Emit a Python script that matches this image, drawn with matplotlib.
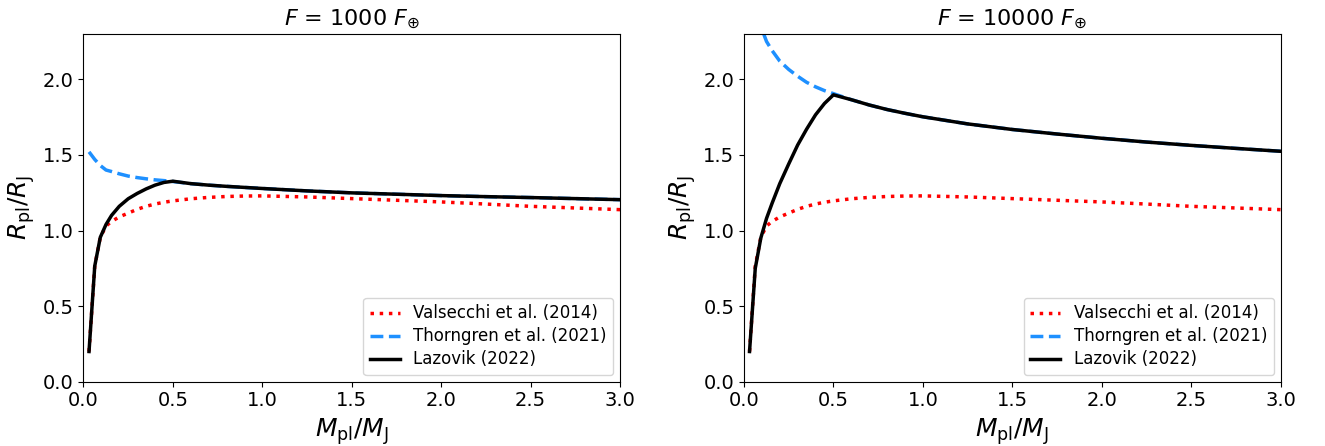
import numpy as np
import matplotlib
matplotlib.use("Agg")
import matplotlib.pyplot as plt

# Planet mass grid in Jupiter masses
mass = [0.031, 0.063, 0.094, 0.126, 0.157, 0.2, 0.25, 0.3, 0.35, 0.4, 0.45, 0.5,
        0.6, 0.7, 0.8, 0.9, 1.0, 1.25, 1.5, 1.75, 2.0, 2.25, 2.5, 2.75, 3.0]

fluxes = [1000, 10000]

# Valsecchi et al. (2014) radii (same for both fluxes)
valsecchi = [0.2, 0.765, 0.955, 1.03, 1.06, 1.09, 1.115, 1.14, 1.16, 1.175, 1.187, 1.196,
             1.21, 1.219, 1.225, 1.228, 1.229, 1.222, 1.211, 1.200, 1.189, 1.175, 1.160, 1.149, 1.138]

# Thorngren et al. (2021) radii
thorngren_1000 = [1.52, 1.47, 1.43, 1.40, 1.39, 1.375, 1.36, 1.35, 1.342, 1.335, 1.33, 1.324,
                  1.31, 1.30, 1.292, 1.285, 1.278, 1.262, 1.249, 1.24, 1.231, 1.224, 1.218, 1.211, 1.204]
thorngren_10000 = [2.75, 2.50, 2.35, 2.25, 2.19, 2.12, 2.065, 2.02, 1.98, 1.95, 1.925, 1.905,
                   1.865, 1.83, 1.80, 1.775, 1.752, 1.705, 1.668, 1.638, 1.61, 1.585, 1.563, 1.543, 1.524]

# Lazovik (2022) radii
lazovik_1000 = [0.2, 0.765, 0.955, 1.04, 1.10, 1.16, 1.21, 1.245, 1.275, 1.30, 1.318, 1.326,
                1.31, 1.30, 1.292, 1.285, 1.278, 1.262, 1.249, 1.24, 1.231, 1.224, 1.218, 1.211, 1.204]
lazovik_10000 = [0.2, 0.75, 0.95, 1.08, 1.18, 1.31, 1.44, 1.565, 1.67, 1.765, 1.84, 1.897,
                 1.865, 1.83, 1.80, 1.775, 1.752, 1.705, 1.668, 1.638, 1.61, 1.585, 1.563, 1.543, 1.524]

thorngren = [thorngren_1000, thorngren_10000]
lazovik = [lazovik_1000, lazovik_10000]

fig = plt.figure(figsize=(13.25, 4.46), dpi=100)
axes = [fig.add_axes([0.063, 0.144, 0.405, 0.78]),
        fig.add_axes([0.5615, 0.144, 0.405, 0.78])]

for i, ax in enumerate(axes):
    ax.plot(mass, valsecchi, ':', color='red', lw=2.5, label='Valsecchi et al. (2014)')
    ax.plot(mass, thorngren[i], '--', color='dodgerblue', lw=2.5, label='Thorngren et al. (2021)')
    ax.plot(mass, lazovik[i], '-', color='black', lw=2.5, label='Lazovik (2022)')
    ax.set_xlim(0, 3)
    ax.set_ylim(0, 2.3)
    ax.set_xticks(np.arange(0, 3.01, 0.5))
    ax.set_yticks(np.arange(0, 2.01, 0.5))
    ax.tick_params(labelsize=14)
    ax.set_xlabel(r'$M_{\rm pl}/M_{\rm J}$', fontsize=18)
    ax.set_ylabel(r'$R_{\rm pl}/R_{\rm J}$', fontsize=18)
    ax.set_title(r'$F$ = %d $F_{\oplus}$' % fluxes[i], fontsize=16)
    ax.legend(loc='lower right', fontsize=12, labelspacing=0.3,
              handlelength=1.8, borderaxespad=0.4)

fig.savefig('out.png', dpi=100)
